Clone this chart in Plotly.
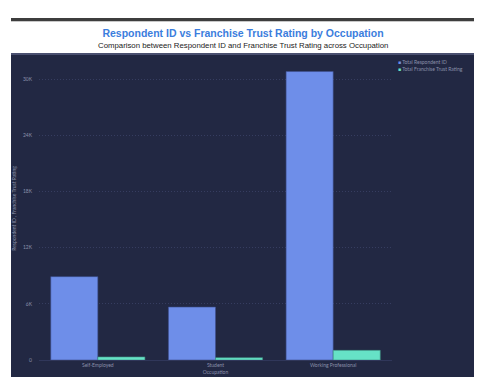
import plotly.graph_objects as go

occupations = ["Self-Employed", "Student", "Working Professional"]
series_names = ["Total Respondent ID", "Total Franchise Trust Rating"]
respondent_id = [8900, 5650, 30800]
trust_rating = [330, 250, 1030]
tick_vals = [0, 6000, 12000, 18000, 24000, 30000]
tick_text = ["0", "6K", "12K", "18K", "24K", "30K"]

BG = "#222843"
BLUE = "#6e8ee9"
TEAL = "#66e2c6"
TXT = "#8a90aa"
FONT = "Lato"

fig = go.Figure()
fig.add_trace(go.Bar(x=occupations, y=respondent_id, name=series_names[0],
                     marker=dict(color=BLUE, line=dict(color="#3e4f8e", width=0.6))))
fig.add_trace(go.Bar(x=occupations, y=trust_rating, name=series_names[1],
                     marker=dict(color=TEAL, line=dict(color="#3e8f80", width=0.6))))

L, R, T, B = 39, 87, 57, 19
W, H = 479, 379
pw, ph = W - L - R, H - T - B

def px_x(px):
    return (px - L) / pw

def px_y(py):
    return (H - B - py) / ph

legend_text = "<br>".join(
    f"<span style='color:{c}'>■</span> {n}" for c, n in zip([BLUE, TEAL], series_names)
)

fig.update_layout(
    width=W, height=H,
    margin=dict(l=L, r=R, t=T, b=B, autoexpand=False),
    paper_bgcolor="white",
    plot_bgcolor=BG,
    barmode="group",
    bargap=0.2,
    bargroupgap=0,
    showlegend=False,
    font=dict(family=FONT, size=5, color=TXT),
    title=dict(text="<b>Respondent ID vs Franchise Trust Rating by Occupation</b>",
               font=dict(family="Liberation Sans, Arial", size=10.5, color="#3b7ddd"),
               x=243 / W, xref="container", xanchor="center",
               y=1 - 33 / H, yref="container", yanchor="middle"),
    xaxis=dict(automargin=False, showgrid=False, showline=True, linecolor="#30375a", linewidth=1,
               ticks="", tickfont=dict(size=5, color=TXT),
               title=dict(text="Occupation", font=dict(size=5, color=TXT), standoff=3)),
    yaxis=dict(automargin=False, range=[0, 32350], tickvals=tick_vals, ticktext=tick_text,
               showgrid=True, gridcolor="#363d60", griddash="1px,2px", gridwidth=1,
               zeroline=True, zerolinecolor="#30375a", zerolinewidth=1,
               ticks="", ticklabelstandoff=6, tickfont=dict(size=5, color=TXT),
               title=dict(text="Respondent ID , Franchise Trust Rating",
                          font=dict(size=5, color=TXT), standoff=6)),
    shapes=[
        dict(type="rect", xref="paper", yref="paper", layer="below",
             x0=px_x(11), x1=px_x(474), y0=px_y(377), y1=px_y(53),
             fillcolor=BG, line=dict(width=0)),
        dict(type="rect", xref="paper", yref="paper", layer="below",
             x0=px_x(11), x1=px_x(474), y0=px_y(55), y1=px_y(53),
             fillcolor="#4a5070", line=dict(width=0)),
        dict(type="rect", xref="paper", yref="paper", layer="below",
             x0=px_x(11), x1=px_x(474), y0=px_y(21), y1=px_y(18),
             fillcolor="#3d3d3d", line=dict(width=0)),
        dict(type="rect", xref="paper", yref="paper", layer="below",
             x0=px_x(11), x1=px_x(474), y0=px_y(22), y1=px_y(21),
             fillcolor="#c8c8c8", line=dict(width=0)),
    ],
    annotations=[
        dict(text="Comparison between Respondent ID and Franchise Trust Rating across Occupation",
             xref="paper", yref="paper", x=px_x(243), y=px_y(46),
             xanchor="center", yanchor="middle", showarrow=False,
             font=dict(family="Liberation Sans, Arial", size=7.8, color="#222222")),
        dict(text=legend_text, xref="paper", yref="paper", x=px_x(396), y=px_y(57),
             xanchor="left", yanchor="top", align="left", showarrow=False,
             font=dict(family=FONT, size=5, color=TXT)),
    ],
)

fig.write_html("out.html", config={"displayModeBar": False},
               post_script="document.body.style.margin='0';document.body.style.overflow='hidden';")
